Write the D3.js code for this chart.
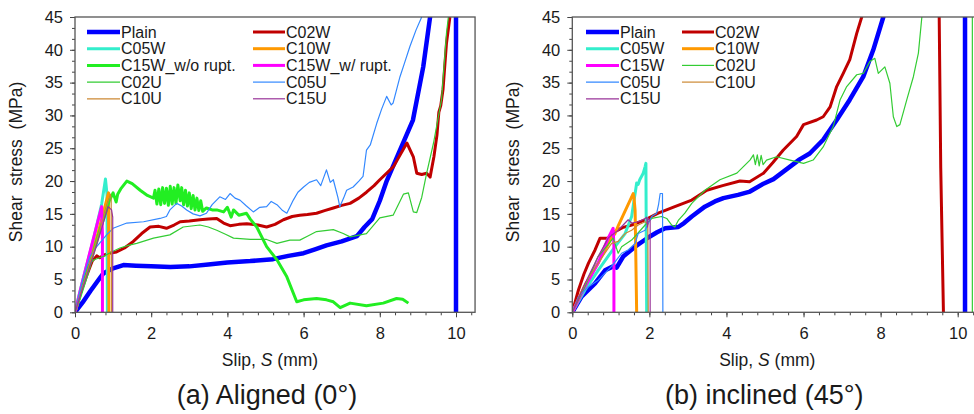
<!DOCTYPE html>
<html>
<head>
<meta charset="utf-8">
<script src="https://cdn.jsdelivr.net/npm/d3@7"></script>
<style>
body { margin: 0; background: #fff; }
text { font-family: "Liberation Sans", Arial, sans-serif; fill: #1a1a1a; }
</style>
</head>
<body>
<svg id="chart" width="974" height="414"></svg>
<script>
// ---------------------------------------------------------------
// data  (slip S in mm, shear stress in MPa)
// ---------------------------------------------------------------
var xTicks = [0, 2, 4, 6, 8, 10];
var yTicks = [0, 5, 10, 15, 20, 25, 30, 35, 40, 45];

var alignedNames = ["Plain", "C02W", "C05W", "C10W", "C15W_w/o rupt.", "C15W_w/ rupt.",
                    "C02U", "C05U", "C10U", "C15U"];
var inclinedNames = ["Plain", "C02W", "C05W", "C10W", "C15W", "C02U", "C05U", "C10U", "C15U"];

// (a) aligned 0 deg
var aPlain = [[0,0],[0.2,1.5],[0.4,3.2],[0.6,4.8],[0.74,5.9],[0.9,6.4],[1.0,6.7],[1.27,7.2],[1.6,7.1],
  [2.0,7.0],[2.5,6.9],[3.0,7.0],[3.5,7.3],[4.0,7.6],[4.6,7.8],[5.2,8.1],[5.6,8.6],[6.0,9.0],[6.3,9.6],
  [6.6,10.2],[7.0,10.8],[7.4,11.6],[7.6,13.0],[7.8,14.2],[8.0,17],[8.18,20],[8.53,24.7],[8.87,29.3],
  [9.14,37.4],[9.32,45],[9.5,52],[10,60],[10,0]];
var aC02W = [[0,0],[0.15,3],[0.3,5.5],[0.45,7.8],[0.57,8.6],[0.65,8.3],[0.75,8.7],[0.9,9.0],[1.09,9.2],
  [1.3,9.8],[1.53,10.8],[1.75,12.0],[1.97,13.0],[2.2,13.1],[2.4,12.8],[2.6,13.3],[2.76,13.8],[3.0,13.9],
  [3.28,14.1],[3.5,14.2],[3.72,14.3],[3.9,13.6],[4.07,13.2],[4.3,13.4],[4.51,13.5],[4.8,13.3],[5.03,13.0],
  [5.25,13.4],[5.47,14.1],[5.7,14.6],[5.9,14.8],[6.1,14.9],[6.34,15.1],[6.55,15.5],[6.78,15.9],[7.0,16.3],
  [7.22,16.6],[7.45,17.4],[7.65,18.3],[7.85,19.3],[8.0,20.2],[8.36,22.2],[8.71,25.8],[8.88,23.7],
  [8.97,21.2],[9.1,21.0],[9.23,21.2],[9.32,20.6],[9.42,23.7],[9.5,27],[9.55,30.5],[9.6,31.5],[9.66,34],
  [9.75,41],[9.84,45]];
var aC05W = [[0,0],[0.13,3.2],[0.3,7],[0.5,11.5],[0.7,16.5],[0.8,20.3],[0.84,18],[0.85,0]];
var aC10W = [[0,0],[0.3,6],[0.6,12],[0.88,18.2],[0.89,0]];
var aC15Wwo = [[0,0],[0.3,5.5],[0.6,11.5],[0.9,17],[1.0,18.2],[1.08,16.8],[1.12,18],[1.2,18.8],[1.36,20],
  [1.5,19.6],[1.71,18.6],[1.9,17.8],[2.06,17.4],[2.1,18.6],[2.15,16.5],[2.2,18.8],[2.25,16.4],[2.3,19],
  [2.35,16.6],[2.4,18.9],[2.45,16.3],[2.5,19.2],[2.55,16.5],[2.6,19],[2.65,16.6],[2.7,19.4],[2.76,17],
  [2.8,19],[2.85,16.4],[2.9,18.6],[2.95,16.2],[3.0,18.2],[3.05,15.8],[3.1,17.8],[3.15,15.6],[3.2,17.4],
  [3.25,15.5],[3.3,17],[3.35,15.4],[3.45,15.9],[3.6,15.6],[3.72,15.6],[3.9,15.3],[4.0,16],[4.1,14.5],
  [4.16,15.6],[4.3,14.8],[4.5,15.1],[4.6,14.2],[4.77,13],[5.03,10],[5.3,8],[5.56,5.4],[5.82,1.6],[6.0,1.9],
  [6.34,2.1],[6.6,1.9],[6.78,1.6],[6.96,0.7],[7.22,1.4],[7.65,1.0],[8.09,1.4],[8.44,2.1],[8.6,2.0],[8.75,1.4]];
var aC15Ww = [[0,0],[0.2,4.8],[0.45,10.5],[0.7,16.1],[0.72,12],[0.72,0]];
var aC02U = [[0,0],[0.15,3.5],[0.35,7.2],[0.5,8.0],[0.74,8.5],[1.0,9.3],[1.18,9.8],[1.4,10.2],[1.62,10.5],
  [2.06,11.3],[2.49,11.8],[2.84,13.0],[3.28,13.3],[3.5,13.0],[3.72,12.5],[3.95,11.9],[4.16,11.3],[4.6,11.1],
  [5.03,11.1],[5.3,10.5],[5.64,11.0],[5.9,11.0],[6.1,11.6],[6.34,12.3],[6.78,12.6],[7.04,12.0],[7.22,11.5],
  [7.65,12.0],[8.0,14.4],[8.35,14.8],[8.62,18],[8.75,18.2],[8.88,15.3],[8.97,15.2],[9.1,17.5],[9.23,21.2],
  [9.41,25.8],[9.62,32.4],[9.75,42.5],[9.8,45]];
var aC05U = [[0,0],[0.1,2.5],[0.22,5.4],[0.39,8.5],[0.57,10],[0.83,11.8],[1.0,12.8],[1.36,13.6],[1.8,13.8],
  [2.23,14.3],[2.4,14.6],[2.49,15.6],[2.67,16.6],[2.8,16.2],[2.93,15.6],[3.1,15.0],[3.28,14.7],[3.45,15.1],
  [3.6,16.4],[3.8,17.6],[3.95,17.2],[4.07,18.1],[4.2,17.4],[4.33,17.1],[4.5,16.2],[4.68,15.3],[4.85,16.0],
  [5.03,16.1],[5.15,16.9],[5.3,16.4],[5.45,15.5],[5.56,15.1],[5.73,17.1],[5.85,18.3],[6.0,19.1],[6.15,19.8],
  [6.34,20.2],[6.45,19.3],[6.6,21.7],[6.7,19.8],[6.78,20.2],[6.9,17.5],[6.95,16.1],[7.05,17.4],[7.13,18.6],
  [7.3,19.1],[7.45,20.0],[7.56,20.7],[7.65,24.7],[7.75,25.5],[7.92,28.8],[8.05,31.0],[8.18,32.9],[8.3,31.6],
  [8.35,31.9],[8.53,35.9],[8.65,38.0],[8.79,40.5],[8.95,43.0],[9.1,45]];
var aC10U = [[0,0],[0.3,5.8],[0.6,11.6],[0.93,18],[0.95,17.2],[0.96,0]];
var aC15U = [[0,0],[0.3,5.4],[0.6,10.8],[0.87,16.1],[0.96,15.6],[0.99,14.5],[0.99,0]];

// (b) inclined 45 deg
var bPlain = [[0,0],[0.24,2.4],[0.59,4.4],[0.85,6.4],[1.06,7.0],[1.15,6.8],[1.32,8.5],[1.63,10.0],[1.97,11.4],
  [2.2,12.2],[2.41,12.8],[2.75,13.0],[2.9,13.6],[3.1,14.6],[3.44,16.1],[3.7,16.9],[3.92,17.4],[4.3,17.9],
  [4.61,18.4],[4.96,19.6],[5.22,20.3],[5.65,22.2],[5.9,23.3],[6.16,24.2],[6.51,26.3],[6.86,29.3],[7.2,32.4],
  [7.55,35.9],[7.81,40],[8.07,45],[9,80],[10.19,80],[10.19,0]];
var bC02W = [[0,0],[0.16,3.4],[0.3,5.8],[0.42,7.5],[0.59,9.5],[0.72,11.3],[0.93,11.3],[1.11,12.3],[1.3,12.9],
  [1.54,13.3],[1.89,14.1],[2.23,15.1],[2.66,16.1],[3.1,17.1],[3.49,18.6],[3.9,19.3],[4.35,20.0],[4.6,19.9],
  [4.96,21.2],[5.2,22.8],[5.47,24.7],[5.82,26.8],[6.0,28.6],[6.34,29.3],[6.51,29.8],[6.69,31.3],[6.86,34.4],
  [7.03,36.4],[7.2,38.5],[7.38,42.5],[7.51,45],[8.5,80],[9.52,80],[9.52,45],[9.56,22],[9.63,0]];
var bC05W = [[0,0],[0.33,3.4],[0.67,6.4],[0.9,8.3],[1.11,10],[1.37,12],[1.54,14.6],[1.6,17],[1.63,18.1],
  [1.67,19.7],[1.71,19.5],[1.75,20.2],[1.84,21.2],[1.89,22.2],[1.91,22.7],[1.92,10],[1.93,0]];
var bC10W = [[0,0],[0.3,3.8],[0.67,7.5],[1.0,11.2],[1.11,12],[1.2,13.3],[1.58,18.1],[1.6,17.5],[1.63,15.5],[1.67,0]];
var bC15W = [[0,0],[0.33,3.9],[0.67,7.5],[0.93,11.3],[1.06,12.8],[1.08,10],[1.08,0]];
var bC02U = [[0,0],[0.33,3.9],[0.67,8.5],[0.93,10.3],[1.06,11.3],[1.19,9.0],[1.28,10],[1.54,11],[1.89,13.3],
  [2.06,14.3],[2.32,14.6],[2.45,14.3],[2.58,13.3],[2.66,13.0],[2.75,14],[2.92,15.1],[3.1,16.6],[3.44,18.6],
  [3.83,20.2],[4.27,21.2],[4.61,23.2],[4.7,24],[4.75,22.5],[4.8,24],[4.85,22.3],[4.9,23.9],[4.95,22.5],
  [5.04,23.2],[5.3,23.7],[5.65,23.2],[6.0,22.7],[6.25,23.2],[6.51,25.2],[6.77,28.3],[6.95,32.4],[7.12,34.4],
  [7.38,36.2],[7.55,36.4],[7.72,38.2],[7.85,38.7],[7.94,36.4],[8.11,37.4],[8.24,34.9],[8.33,29.8],[8.42,28.3],
  [8.5,28.6],[8.68,32.4],[8.85,35.9],[8.98,39.5],[9.07,45],[9.5,80],[10.38,80],[10.38,0]];
var bC05U = [[0,0],[0.16,2.4],[0.4,3.8],[0.67,4.9],[1.02,7.0],[1.28,9.0],[1.45,9.5],[1.63,10.5],[1.71,12],
  [1.89,12.5],[2.06,14.6],[2.19,15.1],[2.24,16.5],[2.28,18.1],[2.34,18.1],[2.35,0]];
var bC10U = [[0,0],[0.33,4.4],[0.67,7.5],[1.02,10.5],[1.19,10.8],[1.37,12],[1.54,12.5],[1.71,13.3],
  [1.89,13.8],[1.96,13.5],[1.97,0]];
var bC15U = [[0,0],[0.33,4.4],[0.67,8.5],[0.93,11.3],[1.19,12.5],[1.45,14.1],[1.54,13.6],[1.71,13.8],
  [1.89,14.3],[1.93,14.5],[1.95,13],[1.97,14.3],[2.02,14],[2.02,0]];

var alignedData = [aPlain, aC02W, aC05W, aC10W, aC15Wwo, aC15Ww, aC02U, aC05U, aC10U, aC15U];
var inclinedData = [bPlain, bC02W, bC05W, bC10W, bC15W, bC02U, bC05U, bC10U, bC15U];

// ---------------------------------------------------------------
// styles
// ---------------------------------------------------------------
var styles = {
  "Plain":          {color: "#0000ff", w: 4.5},
  "C02W":           {color: "#c00000", w: 3},
  "C05W":           {color: "#33eecc", w: 3},
  "C10W":           {color: "#ff9900", w: 3},
  "C15W_w/o rupt.": {color: "#22ee22", w: 3},
  "C15W_w/ rupt.":  {color: "#ff00ff", w: 3},
  "C15W":           {color: "#ff00ff", w: 3},
  "C02U":           {color: "#33cc33", w: 1.2},
  "C05U":           {color: "#3388ff", w: 1.2},
  "C10U":           {color: "#cc8833", w: 1.2},
  "C15U":           {color: "#993399", w: 1.2}
};

var plotTop = 17, plotBottom = 312.3;

var panels = [
  {id: "a", left: 75, pxPerMm: 38.1, names: alignedNames, data: alignedData,
   legX: [87, 253], caption: "(a) Aligned (0°)"},
  {id: "b", left: 572.3, pxPerMm: 38.54, names: inclinedNames, data: inclinedData,
   legX: [586, 682], caption: "(b) inclined (45°)"}
];

var svg = d3.select("#chart");

panels.forEach(function(p) {
  var x = d3.scaleLinear().domain([0, 10.5]).range([p.left, p.left + 10.5 * p.pxPerMm]);
  var y = d3.scaleLinear().domain([0, 45]).range([plotBottom, plotTop]);
  var g = svg.append("g");

  // clip for curves
  svg.append("clipPath").attr("id", "clip" + p.id)
    .append("rect")
    .attr("x", x(0)).attr("y", plotTop)
    .attr("width", x(10.5) - x(0)).attr("height", plotBottom - plotTop);

  // minor ticks
  g.append("g").attr("transform", "translate(0," + plotBottom + ")")
    .call(d3.axisBottom(x).tickValues(d3.range(0, 10.45, 0.4)).tickSize(3).tickFormat(""))
    .call(function(s) { s.select(".domain").remove(); s.selectAll("line").attr("stroke", "#444"); });
  g.append("g").attr("transform", "translate(" + x(0) + ",0)")
    .call(d3.axisLeft(y).tickValues(d3.range(0, 45.01, 5 / 3)).tickSize(3).tickFormat(""))
    .call(function(s) { s.select(".domain").remove(); s.selectAll("line").attr("stroke", "#444"); });

  // major ticks + labels
  var xa = g.append("g").attr("transform", "translate(0," + plotBottom + ")")
    .call(d3.axisBottom(x).tickValues(xTicks).tickSize(5).tickPadding(10));
  var ya = g.append("g").attr("transform", "translate(" + x(0) + ",0)")
    .call(d3.axisLeft(y).tickValues(yTicks).tickSize(5).tickPadding(7));
  [xa, ya].forEach(function(a) {
    a.select(".domain").remove();
    a.selectAll("line").attr("stroke", "#444");
    a.selectAll("text").attr("font-size", 16.5).attr("fill", "#1a1a1a")
      .style("font-family", "'Liberation Sans', Arial, sans-serif");
  });

  // curves
  var line = d3.line().x(function(d) { return x(d[0]); }).y(function(d) { return y(d[1]); });
  var curves = g.append("g").attr("clip-path", "url(#clip" + p.id + ")");
  p.data.forEach(function(series, i) {
    var st = styles[p.names[i]];
    curves.append("path")
      .datum(series)
      .attr("d", line)
      .attr("fill", "none")
      .attr("stroke", st.color)
      .attr("stroke-width", st.w)
      .attr("stroke-linejoin", "round");
  });

  // frame
  g.append("rect")
    .attr("x", x(0)).attr("y", plotTop)
    .attr("width", x(10.5) - x(0)).attr("height", plotBottom - plotTop)
    .attr("fill", "none").attr("stroke", "#555").attr("stroke-width", 1.3);

  // legend, two columns row by row
  var leg = g.append("g");
  p.names.forEach(function(name, i) {
    var st = styles[name];
    var lx = p.legX[i % 2], ly = 32 + Math.floor(i / 2) * 16.7;
    var len = i % 2 === 0 ? 33 : 32;
    leg.append("line")
      .attr("x1", lx).attr("x2", lx + len)
      .attr("y1", ly).attr("y2", ly)
      .attr("stroke", st.color).attr("stroke-width", st.w);
    leg.append("text")
      .attr("x", lx + len + 1).attr("y", ly + 5.6)
      .attr("font-size", 16)
      .text(name);
  });

  // axis titles
  var xt = g.append("text")
    .attr("x", p.left + 195).attr("y", 366)
    .attr("text-anchor", "middle")
    .attr("font-size", 17.5);
  xt.append("tspan").text("Slip,  ");
  xt.append("tspan").attr("font-style", "italic").text("S");
  xt.append("tspan").text(" (mm)");

  g.append("text")
    .attr("transform", "translate(" + (p.left - 53) + ",162) rotate(-90)")
    .attr("text-anchor", "middle")
    .attr("font-size", 17.5)
    .style("white-space", "pre")
    .text("Shear  stress  (MPa)");

  // caption
  g.append("text")
    .attr("x", p.left + 192).attr("y", 404)
    .attr("text-anchor", "middle")
    .attr("font-size", 27)
    .text(p.caption);
});
</script>
</body>
</html>
